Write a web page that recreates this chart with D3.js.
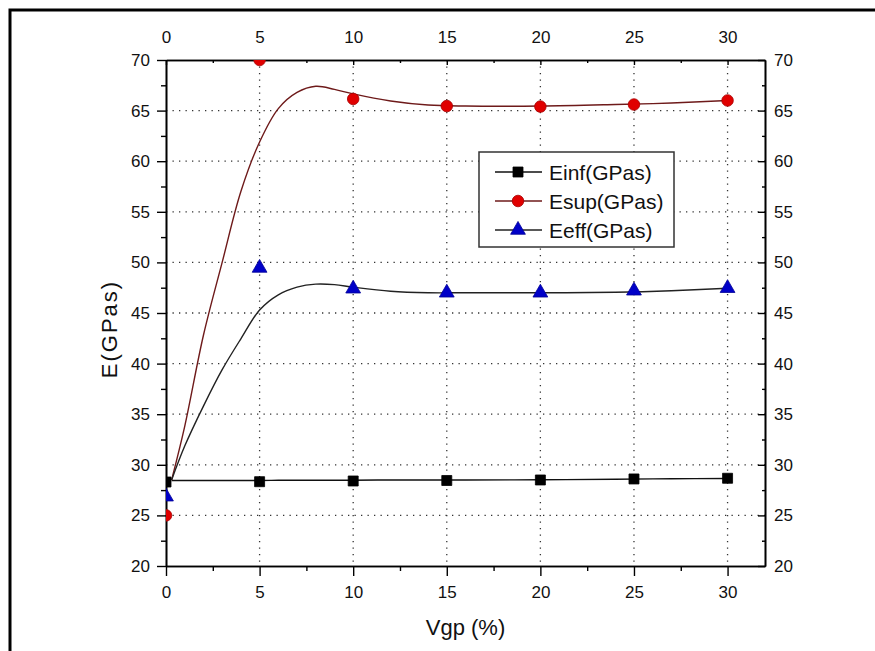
<!DOCTYPE html>
<html>
<head>
<meta charset="utf-8">
<script src="https://cdn.jsdelivr.net/npm/d3@7"></script>
<style>
  body { margin: 0; background: #fff; }
  svg text { font-family: Arial, "Liberation Sans", sans-serif; fill: #111; }
</style>
</head>
<body>
<script>
// measured points
var vgp  = [0, 5, 10, 15, 20, 25, 30];
var eInf = [28.3, 28.33, 28.4, 28.45, 28.5, 28.6, 28.67];
var eSup = [25.0, 70.0, 66.15, 65.45, 65.4, 65.6, 66.0];
var eEff = [26.85, 49.45, 47.4, 47.0, 47.0, 47.2, 47.45];

// smoothed fit curves
var fitX   = [0.3, 1, 2, 3, 4, 5, 6, 7, 8, 9, 10, 12, 14, 16, 20, 24, 27, 30];
var fitSup = [28.5, 33.8, 42.8, 50.0, 57.0, 61.9, 65.2, 66.8, 67.4, 67.1, 66.65, 65.95, 65.55, 65.45, 65.45, 65.6, 65.75, 66.0];
var fitEff = [28.5, 31.85, 35.8, 39.4, 42.45, 45.3, 46.8, 47.55, 47.85, 47.8, 47.55, 47.15, 47.0, 47.0, 47.0, 47.05, 47.2, 47.45];
var fitInf = [28.45, 28.45, 28.45, 28.45, 28.45, 28.45, 28.47, 28.47, 28.47, 28.47, 28.48, 28.5, 28.5, 28.5, 28.52, 28.57, 28.62, 28.65];

var xTicks = [0, 5, 10, 15, 20, 25, 30];
var xMinor = [2.5, 7.5, 12.5, 17.5, 22.5, 27.5];
var yTicks = [20, 25, 30, 35, 40, 45, 50, 55, 60, 65, 70];
var yMinor = [22.5, 27.5, 32.5, 37.5, 42.5, 47.5, 52.5, 57.5, 62.5, 67.5];

var seriesNames = ["Einf(GPas)", "Esup(GPas)", "Eeff(GPas)"];

var width = 875, height = 651;
var plot = {left: 166, top: 60, right: 765, bottom: 566};

var svg = d3.select("body").append("svg")
            .attr("width", width)
            .attr("height", height);

// outer frame
svg.append("rect")
   .attr("x", 10).attr("y", 10)
   .attr("width", 900).attr("height", 700)
   .attr("fill", "none")
   .attr("stroke", "#000")
   .attr("stroke-width", 3);

var x = d3.scaleLinear().domain([0, 32]).range([plot.left, plot.right]);
var y = d3.scaleLinear().domain([20, 70]).range([plot.bottom, plot.top]);

svg.append("clipPath").attr("id", "clip")
   .append("rect")
   .attr("x", plot.left).attr("y", plot.top)
   .attr("width", plot.right - plot.left)
   .attr("height", plot.bottom - plot.top);

// dotted grid
var grid = svg.append("g").attr("class", "grid");
grid.selectAll("line.gx")
    .data(xTicks.filter(function(d){ return d > 0; }))
    .enter().append("line")
    .attr("x1", function(d){ return x(d); })
    .attr("x2", function(d){ return x(d); })
    .attr("y1", plot.top).attr("y2", plot.bottom);
grid.selectAll("line.gy")
    .data(yTicks.filter(function(d){ return d > 20 && d < 70; }))
    .enter().append("line")
    .attr("y1", function(d){ return y(d); })
    .attr("y2", function(d){ return y(d); })
    .attr("x1", plot.left).attr("x2", plot.right);
grid.selectAll("line")
    .attr("stroke", "#333")
    .attr("stroke-width", 1.3)
    .attr("stroke-dasharray", "1.3,5.2");

// axes
function styleAxis(g) {
  g.selectAll("path.domain").attr("stroke", "#000").attr("stroke-width", 1.6);
  g.selectAll(".tick line").attr("stroke", "#000").attr("stroke-width", 1.4);
  g.selectAll("text").attr("font-size", 17).attr("fill", "#111");
}

svg.append("g").attr("transform", "translate(0," + plot.bottom + ")")
   .call(d3.axisBottom(x).tickValues(xTicks).tickSize(10).tickSizeOuter(0).tickPadding(10))
   .call(styleAxis);
svg.append("g").attr("transform", "translate(0," + plot.bottom + ")")
   .call(d3.axisBottom(x).tickValues(xMinor).tickSize(5).tickSizeOuter(0).tickFormat(""))
   .call(styleAxis);

svg.append("g").attr("transform", "translate(0," + plot.top + ")")
   .call(d3.axisTop(x).tickValues(xTicks).tickSize(-5).tickSizeOuter(0).tickPadding(17))
   .call(styleAxis);
svg.append("g").attr("transform", "translate(0," + plot.top + ")")
   .call(d3.axisTop(x).tickValues(xMinor).tickSize(-3).tickSizeOuter(0).tickFormat(""))
   .call(styleAxis);

svg.append("g").attr("transform", "translate(" + plot.left + ",0)")
   .call(d3.axisLeft(y).tickValues(yTicks).tickSize(9).tickSizeOuter(0).tickPadding(7))
   .call(styleAxis);
svg.append("g").attr("transform", "translate(" + plot.left + ",0)")
   .call(d3.axisLeft(y).tickValues(yMinor).tickSize(5).tickSizeOuter(0).tickFormat(""))
   .call(styleAxis);

svg.append("g").attr("transform", "translate(" + plot.right + ",0)")
   .call(d3.axisRight(y).tickValues(yTicks).tickSize(-7).tickSizeOuter(0).tickPadding(9))
   .call(styleAxis);
svg.append("g").attr("transform", "translate(" + plot.right + ",0)")
   .call(d3.axisRight(y).tickValues(yMinor).tickSize(-3).tickSizeOuter(0).tickFormat(""))
   .call(styleAxis);

// axis titles
svg.append("text")
   .attr("x", (plot.left + plot.right) / 2)
   .attr("y", 635)
   .attr("text-anchor", "middle")
   .attr("font-size", 22)
   .text("Vgp (%)");

svg.append("text")
   .attr("transform", "translate(117," + ((plot.top + plot.bottom) / 2 + 16) + ") rotate(-90)")
   .attr("text-anchor", "middle")
   .attr("font-size", 22)
   .attr("letter-spacing", 2)
   .text("E(GPas)");

// fit curves
var series = [
  {name: seriesNames[0], pts: eInf, fit: fitInf, line: "#111", fill: "#000", shape: d3.symbolSquare, size: 100},
  {name: seriesNames[1], pts: eSup, fit: fitSup, line: "#6e1a1a", fill: "#e00000", shape: d3.symbolCircle, size: 105},
  {name: seriesNames[2], pts: eEff, fit: fitEff, line: "#222", fill: "#0000c8", shape: d3.symbolTriangle, size: 95}
];

var lineGen = d3.line()
                .x(function(d){ return x(d[0]); })
                .y(function(d){ return y(d[1]); })
                .curve(d3.curveCatmullRom.alpha(0.5));

var plotG = svg.append("g").attr("clip-path", "url(#clip)");

series.forEach(function(s) {
  plotG.append("path")
       .datum(fitX.map(function(v, i){ return [v, s.fit[i]]; }))
       .attr("d", lineGen)
       .attr("fill", "none")
       .attr("stroke", s.line)
       .attr("stroke-width", 1.4);
});

series.forEach(function(s) {
  plotG.selectAll(null)
       .data(vgp.map(function(v, i){ return [v, s.pts[i]]; }))
       .enter().append("path")
       .attr("transform", function(d){ return "translate(" + x(d[0]) + "," + y(d[1]) + ")"; })
       .attr("d", d3.symbol().type(s.shape).size(s.size))
       .attr("fill", s.fill)
       .attr("stroke", d3.color(s.fill).darker(0.8))
       .attr("stroke-width", 0.8);
});

// legend
var legend = svg.append("g").attr("class", "legend");
legend.append("rect")
      .attr("x", 479).attr("y", 152)
      .attr("width", 195).attr("height", 95)
      .attr("fill", "#fff")
      .attr("stroke", "#333")
      .attr("stroke-width", 1.5);

var rows = legend.selectAll("g.row")
                 .data(series)
                 .enter().append("g")
                 .attr("class", "row")
                 .attr("transform", function(d, i){ return "translate(0," + [172, 201, 230][i] + ")"; });
rows.append("line")
    .attr("x1", 495).attr("x2", 542)
    .attr("stroke", function(d){ return d.line; })
    .attr("stroke-width", 1.4);
rows.append("path")
    .attr("transform", "translate(518,0)")
    .attr("d", function(d){ return d3.symbol().type(d.shape).size(d.size)(); })
    .attr("fill", function(d){ return d.fill; })
    .attr("stroke", function(d){ return d3.color(d.fill).darker(0.8); })
    .attr("stroke-width", 0.8);
rows.append("text")
    .attr("x", 549)
    .attr("dy", "0.36em")
    .attr("font-size", 21)
    .text(function(d){ return d.name; });
</script>
</body>
</html>
